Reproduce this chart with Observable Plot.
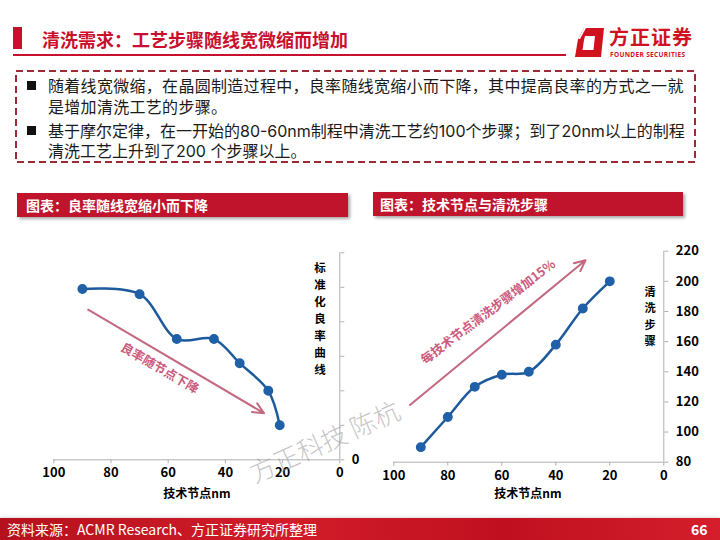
<!DOCTYPE html>
<html><head><meta charset="utf-8">
<script src="https://cdn.jsdelivr.net/npm/d3@7"></script>
<script src="https://cdn.jsdelivr.net/npm/@observablehq/plot@0.6"></script>
<style>
html,body{margin:0;padding:0;}
body{width:720px;height:540px;position:relative;overflow:hidden;background:#fff;font-family:"Noto Sans CJK SC","Noto Sans",sans-serif;}
.abs{position:absolute;}
.red{color:#c8102e;}
.line{position:absolute;left:48px;font-size:16px;line-height:20px;color:#1a1a1a;letter-spacing:0.3px;white-space:nowrap;font-family:"Inter","Noto Sans CJK SC",sans-serif;}
.bullet{position:absolute;left:27px;width:9px;height:9px;background:#111;}
.banner{position:absolute;height:24px;background:#c0142c;box-shadow:2px 2px 3px rgba(0,0,0,0.35);color:#fff;font-weight:bold;font-size:14px;line-height:24px;}
.stack{position:absolute;font-weight:bold;color:#000;text-align:center;width:16px;}
.xlab{position:absolute;font-size:12px;font-weight:bold;color:#000;transform:translateX(-50%);white-space:nowrap;}
.chart{position:absolute;}
</style></head><body>
<!-- header -->
<div class="abs" style="left:13px;top:27px;width:9px;height:22px;background:#c8102e;"></div>
<div class="abs red" style="left:42px;top:27px;font-size:18px;font-weight:bold;line-height:24px;">清洗需求：工艺步骤随线宽微缩而增加</div>
<div class="abs" style="left:13px;top:53.5px;width:553px;height:2.5px;background:#c8102e;"></div>
<svg class="abs" style="left:575px;top:28px;" width="30" height="30" viewBox="0 0 30 30">
  <path fill="#d0121f" fill-rule="evenodd" d="M9 0 L29 0 L26 29 L0 29 L3 11 Z M10 8 L20 8 L18.5 22 L7.5 22 L9 12 Z"/>
  <path fill="#fff" d="M3 11 L9 0 L11 0 L5 11 Z"/>
</svg>
<div class="abs red" style="left:609px;top:24px;font-size:20px;font-weight:bold;line-height:26px;letter-spacing:1px;color:#d0121f;">方正证券</div>
<div class="abs" style="left:610px;top:51px;font-size:6.5px;font-weight:bold;line-height:8px;letter-spacing:0.35px;color:#d0121f;font-family:'Open Sans','Noto Sans',sans-serif;">FOUNDER SECURITIES</div>

<!-- text box -->
<svg class="abs" style="left:15px;top:70px;" width="682" height="94">
  <rect x="1" y="1" width="679" height="91" fill="none" stroke="#9e2a36" stroke-width="2" stroke-dasharray="7 4"/>
</svg>
<div class="bullet" style="top:81px;"></div>
<div class="line" style="top:76px;">随着线宽微缩，在晶圆制造过程中，良率随线宽缩小而下降，其中提高良率的方式之一就</div>
<div class="line" style="top:97px;">是增加清洗工艺的步骤。</div>
<div class="bullet" style="top:126px;"></div>
<div class="line" style="top:121px;letter-spacing:0;">基于摩尔定律，在一开始的80-60nm制程中清洗工艺约100个步骤；到了20nm以上的制程</div>
<div class="line" style="top:141px;letter-spacing:0;">清洗工艺上升到了200 个步骤以上。</div>

<!-- banners -->
<div class="banner" style="left:17px;top:193px;width:331px;"><span style="padding-left:9px;">图表：良率随线宽缩小而下降</span></div>
<div class="banner" style="left:373px;top:192px;width:310px;"><span style="padding-left:7px;">图表：技术节点与清洗步骤</span></div>

<div id="left" class="chart" style="left:0px;top:230px;"></div>
<div id="right" class="chart" style="left:360px;top:230px;"></div>

<div id="leftYLab" class="stack" style="left:312px;top:259px;"></div>
<div id="rightYLab" class="stack" style="left:642px;top:283px;"></div>
<div class="xlab" style="left:197px;top:484px;">技术节点nm</div>
<div class="xlab" style="left:528px;top:484px;">技术节点nm</div>

<!-- watermark -->
<div class="abs" style="left:324px;top:440px;transform:translate(-50%,-50%) rotate(-24deg);font-size:26px;color:rgba(140,140,140,0.5);white-space:nowrap;font-weight:300;">方正科技 陈杭</div>

<!-- footer -->
<div class="abs" style="left:0;top:518px;width:720px;height:22px;background:linear-gradient(to right,#b5111d,#d21c2a 40%,#c0101f 70%,#d41e2c);box-shadow:0 -1px 3px rgba(0,0,0,0.15);"></div>
<div class="abs" style="left:7px;top:518px;font-size:14px;line-height:22px;color:#fff;">资料来源：ACMR Research、方正证券研究所整理</div>
<div class="abs" style="left:691px;top:518px;font-size:14px;line-height:22px;color:#fff;font-weight:bold;">66</div>

<script>
const leftNodes = [90, 70, 57, 44, 35, 25, 21];
const leftYield = [0.99, 0.96, 0.70, 0.70, 0.56, 0.40, 0.20];
const rightNodes = [90, 80, 70, 60, 50, 40, 30, 20];
const rightSteps = [90, 110, 130, 138, 140, 158, 182, 200];
const xTicks = [100, 80, 60, 40, 20, 0];
const leftYTicks = [0, 0.2, 0.4, 0.6, 0.8, 1.0, 1.2];
const rightYTicks = [80, 100, 120, 140, 160, 180, 200, 220];
const leftYLabel = "标准化良率曲线";
const rightYLabel = "清洗步骤";
const leftArrow = [{x1: 88, y1: 0.87, x2: 26.5, y2: 0.27}];
const leftNote = [{x: 63, y: 0.53, text: "良率随节点下降"}];
const rightArrow = [{x1: 94, y1: 118, x2: 29, y2: 214}];
const rightNote = [{x: 65, y: 179.5, text: "每技术节点清洗步骤增加15%"}];

const leftData = leftNodes.map((n, i) => ({node: n, value: leftYield[i]}));
const rightData = rightNodes.map((n, i) => ({node: n, value: rightSteps[i]}));

const LINE = "#1d5a9c", DOT = "#1f60a8", AXIS = "#b0b0b0", ARROW = "#c2687f", NOTE = "#cc5a7d";
const baseStyle = {fontFamily: "'Noto Sans CJK SC', sans-serif", fontSize: "13px", fontWeight: "bold", color: "#000", background: "transparent", overflow: "visible"};

const leftPlot = Plot.plot({
  width: 360, height: 270,
  marginLeft: 53.3, marginRight: 20.7, marginTop: 22.3, marginBottom: 40.7,
  style: baseStyle,
  x: {domain: [100, 0]},
  y: {domain: [0, 1.2]},
  marks: [
    Plot.ruleY([0], {stroke: AXIS}),
    Plot.ruleX([0], {stroke: AXIS}),
    Plot.axisX({ticks: xTicks, tickSize: 4, tickPadding: 4, stroke: AXIS, fill: "#000", label: null}),
    Plot.axisY({anchor: "right", ticks: leftYTicks, tickFormat: d => d === 0 ? "0" : "", tickSize: 4, tickPadding: 8, stroke: AXIS, fill: "#000", label: null}),
    Plot.arrow(leftArrow, {x1: "x1", y1: "y1", x2: "x2", y2: "y2", stroke: ARROW, strokeWidth: 2, headLength: 9, headAngle: 50}),
    Plot.text(leftNote, {x: "x", y: "y", text: "text", rotate: 30, fill: NOTE, fontSize: 12.5, fontWeight: "bold"}),
    Plot.line(leftData, {x: "node", y: "value", curve: "catmull-rom", stroke: LINE, strokeWidth: 2.5}),
    Plot.dot(leftData, {x: "node", y: "value", r: 4.2, fill: DOT, stroke: DOT})
  ]
});
document.getElementById("left").appendChild(leftPlot);

const rightPlot = Plot.plot({
  width: 360, height: 270,
  marginLeft: 33.3, marginRight: 56.7, marginTop: 20.7, marginBottom: 38.3,
  style: baseStyle,
  x: {domain: [100, 0]},
  y: {domain: [80, 220]},
  marks: [
    Plot.ruleY([80], {stroke: AXIS}),
    Plot.ruleX([0], {stroke: AXIS}),
    Plot.axisX({ticks: xTicks, tickSize: 4, tickPadding: 5, stroke: AXIS, fill: "#000", label: null}),
    Plot.axisY({anchor: "right", ticks: rightYTicks, tickSize: 4, tickPadding: 8, stroke: AXIS, fill: "#000", label: null}),
    Plot.arrow(rightArrow, {x1: "x1", y1: "y1", x2: "x2", y2: "y2", stroke: ARROW, strokeWidth: 2, headLength: 9, headAngle: 50}),
    Plot.text(rightNote, {x: "x", y: "y", text: "text", rotate: -37, fill: NOTE, fontSize: 12.5, fontWeight: "bold"}),
    Plot.line(rightData, {x: "node", y: "value", curve: "catmull-rom", stroke: LINE, strokeWidth: 2.5}),
    Plot.dot(rightData, {x: "node", y: "value", r: 4.2, fill: DOT, stroke: DOT})
  ]
});
document.getElementById("right").appendChild(rightPlot);

// stacked vertical labels: one block per character, fixed pitch
function stack(id, label, pitch, size) {
  const el = document.getElementById(id);
  Array.from(label).forEach((ch, i) => {
    const d = document.createElement("div");
    d.textContent = ch;
    d.style.cssText = `position:absolute;left:0;top:${i * pitch}px;width:16px;font-size:${size}px;line-height:${pitch}px;`;
    el.appendChild(d);
  });
}
stack("leftYLab", leftYLabel, 17, 11.5);
stack("rightYLab", rightYLabel, 16.4, 11.2);
</script>
</body></html>
